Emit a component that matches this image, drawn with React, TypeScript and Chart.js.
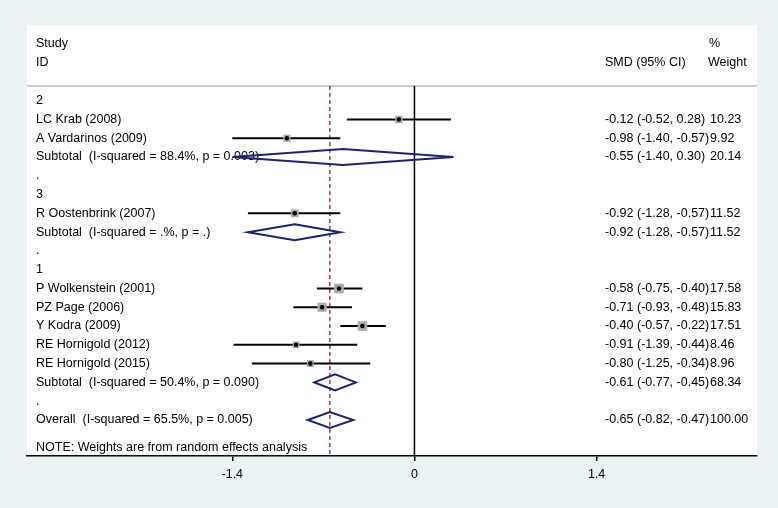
import { useEffect, useRef } from "react";
import { Chart, registerables } from "chart.js";

Chart.register(...registerables);

// ---------- data ----------
const rowLabels = [
  "2",
  "LC Krab (2008)",
  "A Vardarinos (2009)",
  "Subtotal  (I-squared = 88.4%, p = 0.003)",
  ".",
  "3",
  "R Oostenbrink (2007)",
  "Subtotal  (I-squared = .%, p = .)",
  ".",
  "1",
  "P Wolkenstein (2001)",
  "PZ Page (2006)",
  "Y Kodra (2009)",
  "RE Hornigold (2012)",
  "RE Hornigold (2015)",
  "Subtotal  (I-squared = 50.4%, p = 0.090)",
  ".",
  "Overall  (I-squared = 65.5%, p = 0.005)",
];
const rowKinds = [
  "group", "study", "study", "pooled", "gap",
  "group", "study", "pooled", "gap",
  "group", "study", "study", "study", "study", "study", "pooled", "gap",
  "pooled",
];
const smd = [null, -0.12, -0.98, -0.55, null, null, -0.92, -0.92, null, null, -0.58, -0.71, -0.40, -0.91, -0.80, -0.61, null, -0.65];
const ciLow = [null, -0.52, -1.40, -1.40, null, null, -1.28, -1.28, null, null, -0.75, -0.93, -0.57, -1.39, -1.25, -0.77, null, -0.82];
const ciHigh = [null, 0.28, -0.57, 0.30, null, null, -0.57, -0.57, null, null, -0.40, -0.48, -0.22, -0.44, -0.34, -0.45, null, -0.47];
const weights = [null, 10.23, 9.92, 20.14, null, null, 11.52, 11.52, null, null, 17.58, 15.83, 17.51, 8.46, 8.96, 68.34, null, 100.0];
const xTicks = [-1.4, 0, 1.4];
const overallSMD = -0.65;
const headerLeft = ["Study", "ID"];
const headerCI = "SMD (95% CI)";
const headerWeight = ["%", "Weight"];
const noteText = "NOTE: Weights are from random effects analysis";

// ---------- styles ----------
const FONT = '12.5px "Liberation Sans", Arial, Helvetica, sans-serif';
const BG = "#eaf2f3";
const NAVY = "#1c2370";
const MAROON = "#93403f";
const SQUARE = "#ababab";

const fmt = (v: number) => v.toFixed(2);

const forestPlugin = {
  id: "forest",
  beforeDraw(chart: any) {
    const { ctx, chartArea: a, width, height } = chart;
    ctx.save();
    ctx.fillStyle = BG;
    ctx.fillRect(0, 0, width, height);
    ctx.fillStyle = "#ffffff";
    ctx.fillRect(a.left, a.top, a.right - a.left, a.bottom - a.top);
    ctx.restore();
  },
  beforeDatasetsDraw(chart: any) {
    const { ctx, chartArea: a } = chart;
    const xs = chart.scales.x;
    const ys = chart.scales.y;
    const leftX = a.left + 9;
    const ciX = a.left + 578;
    const wX = a.left + 683;
    ctx.save();
    // header separator
    const sepY = ys.getPixelForValue(-0.78);
    ctx.strokeStyle = "#c9c9d3";
    ctx.lineWidth = 2;
    ctx.beginPath();
    ctx.moveTo(a.left, sepY);
    ctx.lineTo(a.right, sepY);
    ctx.stroke();

    // texts
    ctx.font = FONT;
    ctx.fillStyle = "#000";
    ctx.textBaseline = "middle";
    ctx.textAlign = "left";
    ctx.fillText(headerLeft[0], leftX, ys.getPixelForValue(-3.02));
    ctx.fillText(headerLeft[1], leftX, ys.getPixelForValue(-2.04));
    ctx.fillText(headerCI, ciX, ys.getPixelForValue(-2.04));
    ctx.fillText(headerWeight[0], wX - 1, ys.getPixelForValue(-3.02));
    ctx.fillText(headerWeight[1], wX - 2, ys.getPixelForValue(-2.04));
    rowLabels.forEach((lab, i) => {
      const py = ys.getPixelForValue(i);
      ctx.fillText(lab, leftX, py);
      const es = smd[i];
      if (es !== null) {
        ctx.fillText(`${fmt(es)} (${fmt(ciLow[i] as number)}, ${fmt(ciHigh[i] as number)})`, ciX, py);
        ctx.fillText(fmt(weights[i] as number), wX, py);
      }
    });
    ctx.fillText(noteText, leftX, ys.getPixelForValue(18.45));

    // zero line
    const x0 = xs.getPixelForValue(0);
    ctx.strokeStyle = "#000";
    ctx.lineWidth = 1.5;
    ctx.beginPath();
    ctx.moveTo(x0, sepY);
    ctx.lineTo(x0, a.bottom);
    ctx.stroke();

    // overall dashed line
    const xo = xs.getPixelForValue(overallSMD);
    ctx.strokeStyle = MAROON;
    ctx.lineWidth = 1.5;
    ctx.setLineDash([4, 3]);
    ctx.beginPath();
    ctx.moveTo(xo, sepY);
    ctx.lineTo(xo, a.bottom);
    ctx.stroke();
    ctx.setLineDash([]);

    // CI lines
    ctx.strokeStyle = "#000";
    ctx.lineWidth = 2;
    rowKinds.forEach((k, i) => {
      if (k !== "study") return;
      const py = ys.getPixelForValue(i);
      ctx.beginPath();
      ctx.moveTo(xs.getPixelForValue(ciLow[i]), py);
      ctx.lineTo(xs.getPixelForValue(ciHigh[i]), py);
      ctx.stroke();
    });
    ctx.restore();
  },
  afterDatasetsDraw(chart: any) {
    const { ctx } = chart;
    const xs = chart.scales.x;
    const ys = chart.scales.y;
    ctx.save();
    ctx.strokeStyle = NAVY;
    ctx.lineWidth = 2;
    ctx.lineJoin = "miter";
    rowKinds.forEach((k, i) => {
      if (k !== "pooled") return;
      const py = ys.getPixelForValue(i);
      const half = 8;
      ctx.beginPath();
      ctx.moveTo(xs.getPixelForValue(ciLow[i]), py);
      ctx.lineTo(xs.getPixelForValue(smd[i]), py - half);
      ctx.lineTo(xs.getPixelForValue(ciHigh[i]), py);
      ctx.lineTo(xs.getPixelForValue(smd[i]), py + half);
      ctx.closePath();
      ctx.stroke();
    });
    ctx.restore();
  },
};

export default function App() {
  const ref = useRef<HTMLCanvasElement | null>(null);
  useEffect(() => {
    if (!ref.current) return;
    const studyIdx = rowKinds.map((k, i) => (k === "study" ? i : -1)).filter((i) => i >= 0);
    const pts = studyIdx.map((i) => ({ x: smd[i] as number, y: i, w: weights[i] as number }));
    const chart = new Chart(ref.current, {
      type: "scatter",
      data: {
        datasets: [
          {
            data: pts,
            pointStyle: "circle",
            pointRadius: 2.3,
            backgroundColor: "#000",
            borderWidth: 0,
            order: 0,
          },
          {
            data: pts,
            pointStyle: "rect",
            pointRadius: (c: any) => (2.3 * Math.sqrt(pts[c.dataIndex].w)) / Math.SQRT2,
            backgroundColor: SQUARE,
            borderWidth: 0,
            order: 1,
          },
        ],
      },
      options: {
        animation: false,
        responsive: false,
        events: [],
        layout: { padding: { left: 27, right: 21, top: 25, bottom: 0 } },
        plugins: { legend: { display: false }, tooltip: { enabled: false } },
        scales: {
          x: {
            type: "linear",
            min: -2.978,
            max: 2.633,
            afterBuildTicks: (s: any) => {
              s.ticks = xTicks.map((v) => ({ value: v }));
            },
            afterFit: (s: any) => {
              s.height = 52;
            },
            ticks: {
              callback: (v: any) => String(v),
              font: { family: '"Liberation Sans", Arial, sans-serif', size: 12.5 },
              color: "#000",
              padding: 6,
              maxRotation: 0,
              autoSkip: false,
            },
            grid: { drawOnChartArea: false, drawTicks: true, tickLength: 5, color: "#000", lineWidth: 1.5 },
            border: { display: true, color: "#000", width: 1.5 },
          },
          y: {
            type: "linear",
            min: -4.03,
            max: 18.92,
            reverse: true,
            display: false,
          },
        },
      },
      plugins: [forestPlugin],
    });
    return () => chart.destroy();
  }, []);
  return (
    <div style={{ position: "absolute", left: 0, top: 0, width: 778, height: 508 }}>
      <canvas ref={ref} width={778} height={508} style={{ display: "block" }} />
    </div>
  );
}
